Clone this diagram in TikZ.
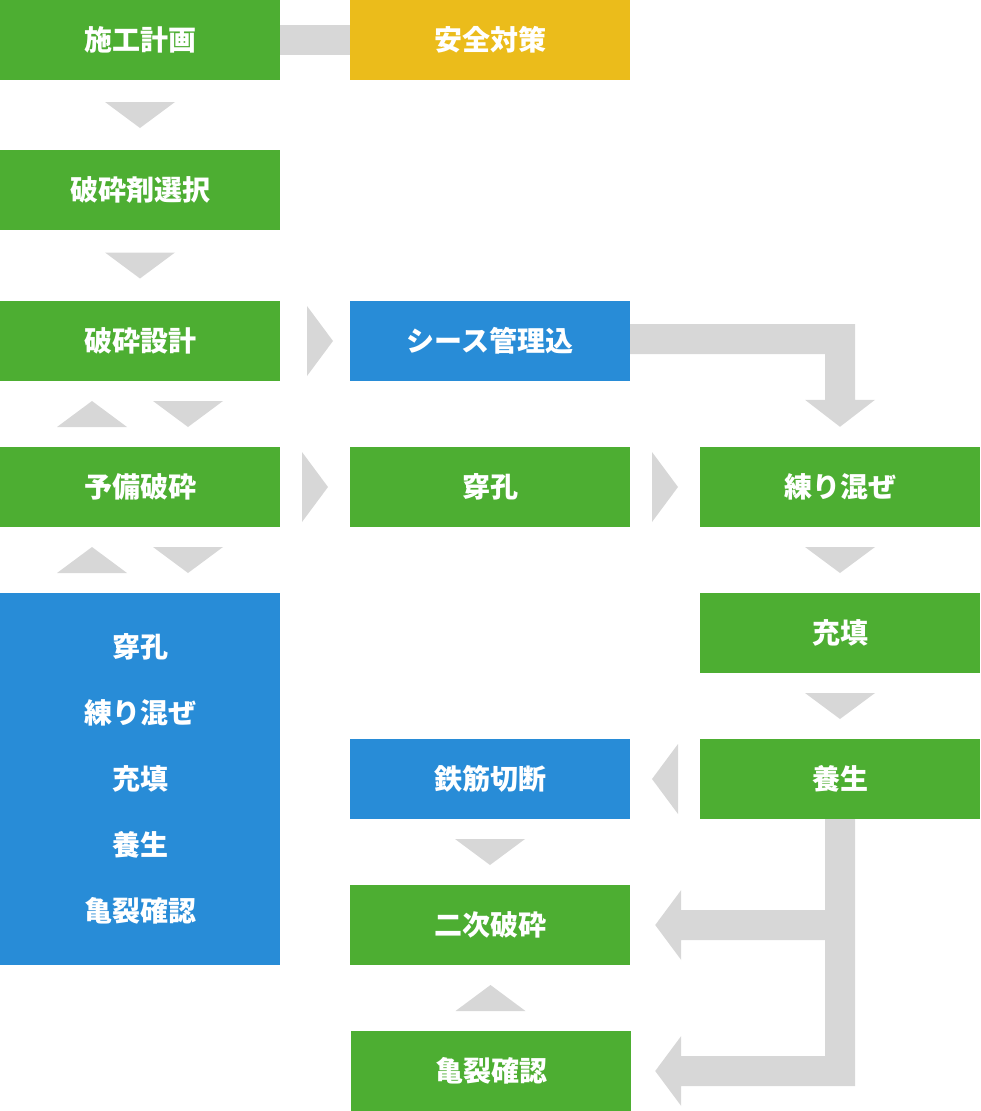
\documentclass[tikz,border=0pt]{standalone}
\usepackage{fontspec}
\newfontfamily\jp{Noto Sans CJK JP}
\usetikzlibrary{calc}
\definecolor{fgreen}{HTML}{4DAE32}
\definecolor{fblue}{HTML}{288CD7}
\definecolor{fyellow}{HTML}{EBBC1B}
\definecolor{fgray}{HTML}{D7D7D7}
\tikzset{
  box/.style={rectangle, draw=none, minimum width=280pt, minimum height=80pt, inner sep=0pt, text=white, font=\jp\bfseries\fontsize{28}{34}\selectfont},
  gbox/.style={box, fill=fgreen},
  bbox/.style={box, fill=fblue},
  ybox/.style={box, fill=fyellow},
  conn/.style={fill=fgray, draw=none},
}
\begin{document}
\begin{tikzpicture}[x=1pt, y=-1pt]
\useasboundingbox (0,0) rectangle (980,1111);
% nodes
\node[gbox] (plan)   at (140,40)  {施工計画};
\node[ybox] (safety) at (490,40)  {安全対策};
\node[gbox] (agent)  at (140,190) {破砕剤選択};
\node[gbox] (design) at (140,341) {破砕設計};
\node[bbox] (sheath) at (490,341) {シース管理込};
\node[gbox] (pre)    at (140,487) {予備破砕};
\node[gbox] (drill)  at (490,487) {穿孔};
\node[gbox] (mix)    at (840,487) {練り混ぜ};
\node[bbox, minimum height=372pt, align=center, font=\jp\bfseries\fontsize{28}{66}\selectfont] (steps) at (140,779)
  {穿孔\\練り混ぜ\\充填\\養生\\亀裂確認};
\node[gbox] (fill)   at (840,633) {充填};
\node[gbox] (cure)   at (840,779) {養生};
\node[bbox] (rebar)  at (490,779) {鉄筋切断};
\node[gbox] (second) at (490,925) {二次破砕};
\node[gbox] (crack)  at (491,1071) {亀裂確認};
% plan -- safety band
\fill[conn] ($(plan.east)+(0,-15)$) rectangle ($(safety.west)+(0,15)$);
% down triangles
\foreach \a/\b in {plan/agent, agent/design, mix/fill, fill/cure, rebar/second}{
  \coordinate (m) at ($(\a.south)!0.5!(\b.north)$);
  \fill[conn] ($(m)+(-35,-13)$) -- ($(m)+(35,-13)$) -- ($(m)+(0,13)$) -- cycle;
}
% up triangle crack -> second
\coordinate (m) at ($(second.south)!0.5!(crack.north)$);
\fill[conn] ($(m)+(-35,13)$) -- ($(m)+(35,13)$) -- ($(m)+(0,-13)$) -- cycle;
% paired up/down triangles
\foreach \a/\b in {design/pre, pre/steps}{
  \coordinate (m) at ($(\a.south)!0.5!(\b.north)$);
  \fill[conn] ($(m)+(-83,13)$) -- ($(m)+(-13,13)$) -- ($(m)+(-48,-13)$) -- cycle;
  \fill[conn] ($(m)+(13,-13)$) -- ($(m)+(83,-13)$) -- ($(m)+(48,13)$) -- cycle;
}
% right triangles
\coordinate (m) at ($(design.east)!0.5!(sheath.west)+(5,0)$);
\fill[conn] ($(m)+(-13,-35)$) -- ($(m)+(13,0)$) -- ($(m)+(-13,35)$) -- cycle;
\foreach \a/\b in {pre/drill, drill/mix}{
  \coordinate (m) at ($(\a.east)!0.5!(\b.west)$);
  \fill[conn] ($(m)+(-13,-35)$) -- ($(m)+(13,0)$) -- ($(m)+(-13,35)$) -- cycle;
}
% left triangle cure -> rebar
\coordinate (m) at ($(rebar.east)!0.5!(cure.west)$);
\fill[conn] ($(m)+(13,-35)$) -- ($(m)+(-13,0)$) -- ($(m)+(13,35)$) -- cycle;
% elbow arrow sheath -> mix
\coordinate (c) at (mix.north |- sheath.east);
\fill[conn] ($(sheath.east)+(0,-17)$) -- ($(c)+(15,-17)$) -- ($(mix.north)+(15,-47)$)
  -- ($(mix.north)+(35,-47)$) -- ($(mix.north)+(0,-20)$) -- ($(mix.north)+(-35,-47)$)
  -- ($(mix.north)+(-15,-47)$) -- ($(c)+(-15,13)$) -- ($(sheath.east)+(0,13)$) -- cycle;
% branch arrow cure -> second, crack
\coordinate (t1) at ($(second.east)+(25,0)$);
\coordinate (t2) at ($(crack.east)+(24,0)$);
\coordinate (v1) at (cure.south |- second.east);
\coordinate (v2) at (cure.south |- crack.east);
\fill[conn] ($(cure.south)+(-15,0)$) -- ($(cure.south)+(15,0)$) -- ($(v2)+(15,15)$)
  -- ($(t2)+(26,15)$) -- ($(t2)+(26,35)$) -- (t2) -- ($(t2)+(26,-35)$) -- ($(t2)+(26,-15)$)
  -- ($(v2)+(-15,-15)$) -- ($(v1)+(-15,15)$)
  -- ($(t1)+(26,15)$) -- ($(t1)+(26,35)$) -- (t1) -- ($(t1)+(26,-35)$) -- ($(t1)+(26,-15)$)
  -- ($(v1)+(-15,-15)$) -- cycle;
\end{tikzpicture}
\end{document}
